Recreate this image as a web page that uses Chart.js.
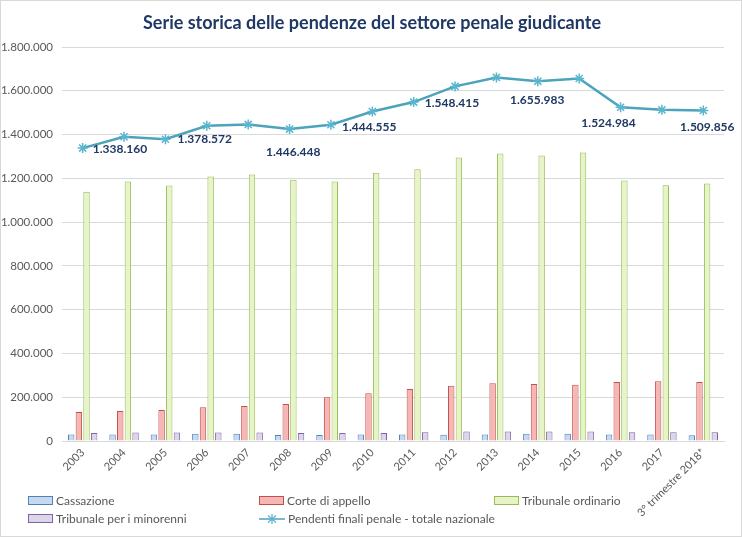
<!DOCTYPE html>
<html>
<head>
<meta charset="utf-8">
<script src="https://cdn.jsdelivr.net/npm/chart.js@4.4.1/dist/chart.umd.min.js"></script>
<style>
  html, body { margin: 0; padding: 0; background: #fff; }
  #wrap { position: relative; width: 740px; height: 535px; border: 1px solid #d9d9d9; }
  #legend { position: absolute; left: 0; top: 0; width: 100%; height: 100%; pointer-events: none;
            font-family: Lato, sans-serif; font-size: 12px; color: #595959; }
  .item { position: absolute; display: flex; align-items: center; white-space: nowrap; }
  .box { width: 23px; height: 7px; margin-right: 3px; border: 1px solid; }
</style>
</head>
<body>
<div id="wrap">
  <canvas id="chart" width="740" height="535"></canvas>
  <div id="legend"></div>
</div>
<script>
const years = ['2003', '2004', '2005', '2006', '2007', '2008', '2009', '2010',
               '2011', '2012', '2013', '2014', '2015', '2016', '2017', '3° trimestre 2018*'];
const cassazione = [30000, 30000, 30000, 33000, 33000, 27000, 27000, 30000,
                    30000, 29000, 30000, 33000, 33000, 30000, 30000, 26000];
const corteAppello = [133000, 137000, 142000, 154000, 160000, 169000, 200000, 218000,
                      237000, 252000, 264000, 260000, 257000, 269000, 273000, 269000];
const tribunaleOrdinario = [1139000, 1185000, 1167000, 1208000, 1217000, 1194000, 1185000, 1226000,
                            1241000, 1295000, 1313000, 1304000, 1318000, 1190000, 1168000, 1176000];
const tribunaleMinorenni = [36000, 39000, 39000, 39000, 39000, 36000, 36000, 36000,
                            40000, 43000, 43000, 43000, 43000, 40000, 40000, 40000];
const pendentiTotali = [1338160, 1390000, 1378572, 1440000, 1446448, 1425000, 1444555, 1505000,
                        1548415, 1620000, 1661000, 1643000, 1655983, 1524984, 1513000, 1509856];
const yTicks = [0, 200000, 400000, 600000, 800000, 1000000, 1200000, 1400000, 1600000, 1800000];
const chartTitle = 'Serie storica delle pendenze del settore penale giudicante';

function fmt(v) {
    return String(v).replace(/\B(?=(\d{3})+(?!\d))/g, '.');
}

// which points carry a value label, and where it goes relative to the point
const labelPlace = {
    0: { dx: 10, dy: 1, align: 'left' },
    2: { dx: 12, dy: 0, align: 'left' },
    4: { dx: 45, dy: 28, align: 'center' },
    6: { dx: 11, dy: 2, align: 'left' },
    8: { dx: 11, dy: 1, align: 'left' },
    12: { dx: -42, dy: 22, align: 'center' },
    13: { dx: -12, dy: 16, align: 'center' },
    15: { dx: 4, dy: 17, align: 'center' }
};

const lineLabels = {
    id: 'lineLabels',
    afterDatasetsDraw(chart) {
        const meta = chart.getDatasetMeta(4);
        const ctx = chart.ctx;
        ctx.save();
        ctx.font = 'bold 12px Lato';
        ctx.fillStyle = '#1f3864';
        ctx.textBaseline = 'middle';
        Object.keys(labelPlace).forEach(i => {
            const p = meta.data[i];
            const pl = labelPlace[i];
            ctx.textAlign = pl.align;
            ctx.fillText(fmt(pendentiTotali[i]), p.x + pl.dx, p.y + pl.dy);
        });
        ctx.restore();
    }
};

// title centred on the whole picture, as Excel does
const centredTitle = {
    id: 'centredTitle',
    afterDraw(chart) {
        const ctx = chart.ctx;
        ctx.save();
        ctx.font = 'bold 18px Lato';
        ctx.fillStyle = '#1f3864';
        ctx.textAlign = 'center';
        ctx.textBaseline = 'middle';
        ctx.fillText(chartTitle, chart.width / 2 + 1, 22);
        ctx.restore();
    }
};

const series = [
    { label: 'Cassazione', data: cassazione, fill: '#c6d9f1', border: '#4f81bd' },
    { label: 'Corte di appello', data: corteAppello, fill: '#f6b6b4', border: '#c0504d' },
    { label: 'Tribunale ordinario', data: tribunaleOrdinario, fill: '#e6f4c8', border: '#9bbb59' },
    { label: 'Tribunale per i minorenni', data: tribunaleMinorenni, fill: '#ddd5ea', border: '#8064a2' }
];

const datasets = series.map(s => ({
    type: 'bar',
    label: s.label,
    data: s.data,
    backgroundColor: s.fill,
    borderColor: s.border,
    borderWidth: 1,
    categoryPercentage: 0.74,
    barPercentage: 0.84,
    order: 2
}));
datasets.push({
    type: 'line',
    label: 'Pendenti finali penale - totale nazionale',
    data: pendentiTotali,
    borderColor: '#4ba3bc',
    borderWidth: 2.5,
    pointStyle: 'star',
    pointRadius: 5,
    pointBorderColor: '#5ab6ce',
    pointBorderWidth: 1.5,
    tension: 0,
    order: 1
});

const chart = new Chart(document.getElementById('chart'), {
    type: 'bar',
    data: { labels: years, datasets: datasets },
    plugins: [lineLabels, centredTitle],
    options: {
        responsive: false,
        animation: false,
        layout: { padding: { left: 0, right: 17, top: 46, bottom: 0 } },
        plugins: {
            legend: { display: false },
            tooltip: { enabled: false },
            title: { display: false }
        },
        scales: {
            x: {
                grid: { display: false, drawTicks: false },
                border: { color: '#d9d9d9' },
                ticks: {
                    color: '#595959',
                    font: { family: 'Lato', size: 11 },
                    minRotation: 45,
                    maxRotation: 45,
                    padding: 5
                },
                afterFit(scale) { scale.height = 95; }
            },
            y: {
                min: 0,
                max: 1800000,
                afterBuildTicks(scale) { scale.ticks = yTicks.map(v => ({ value: v })); },
                grid: { color: '#d9d9d9', drawTicks: false },
                border: { display: false },
                ticks: {
                    color: '#595959',
                    font: { family: 'Lato', size: 11.5 },
                    padding: 9,
                    callback: v => fmt(v)
                },
                afterFit(scale) { scale.width = 61; }
            }
        }
    }
});

// legend in the Excel layout: three columns, two rows
const legendPos = [[27, 500], [258, 500], [493, 500], [27, 518], [258, 518]];
const legend = document.getElementById('legend');
chart.data.datasets.forEach((ds, i) => {
    const item = document.createElement('div');
    item.className = 'item';
    item.style.left = legendPos[i][0] + 'px';
    item.style.top = (legendPos[i][1] - 8) + 'px';
    if (ds.type === 'bar') {
        const b = document.createElement('span');
        b.className = 'box';
        b.style.background = ds.backgroundColor;
        b.style.borderColor = ds.borderColor;
        item.appendChild(b);
    } else {
        const c = document.createElement('canvas');
        c.width = 26; c.height = 12;
        c.style.marginRight = '3px';
        const g = c.getContext('2d');
        g.strokeStyle = ds.borderColor; g.lineWidth = 1.5;
        g.beginPath(); g.moveTo(0, 6); g.lineTo(26, 6); g.stroke();
        g.strokeStyle = ds.pointBorderColor; g.lineWidth = 1.2;
        g.beginPath();
        g.moveTo(13, 1); g.lineTo(13, 11);
        g.moveTo(9, 2.5); g.lineTo(17, 9.5);
        g.moveTo(17, 2.5); g.lineTo(9, 9.5);
        g.stroke();
        item.appendChild(c);
    }
    const t = document.createElement('span');
    t.textContent = ds.label;
    item.appendChild(t);
    legend.appendChild(item);
});
</script>
</body>
</html>
